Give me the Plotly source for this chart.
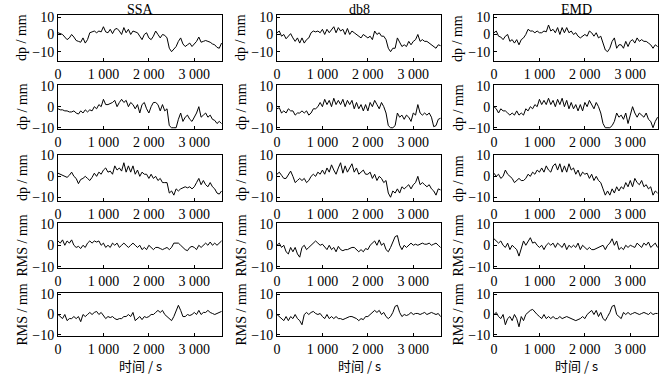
import plotly.graph_objects as go
from plotly.subplots import make_subplots

# time axis (s), every 50 s
time_s = list(range(0, 3601, 50))

ssa_dp1 = [1, 0.5, 0, -1.5, -3, -2, 0, -1.5, -3.5, -4, -4.5, -2, -5, -3, 1, 1.5, 2, 1, 2, 1.5,
           4.5, 1.5, 1, 3, 0.5, 3, 3.5, 2, 0, 4, 1, 3, 0, 2, 1.5, 1, -1, -3, 0, 1,
           -2, -3, -1, 2, 0, -2, 0, -0.5, -2, -8, -10, -8.5, -7, -4, -2, -5.5, -7, -6, -5, -7,
           -5.5, -4, -1.5, -4.5, -4, -3.5, -4, -4.5, -5.5, -6, -7.5, -8, -5]
ssa_dp2 = [-1, -1.5, -1.5, -2, -2, -2.5, -2.5, -2, -3, -3.5, -2, -3, -1.5, -2.5, -1.5, -2, 0, -1, 1, 0,
           3.5, 1, 1, 1.5, 2, 3, 0, 2, 3.5, 2, 3, 0, 2, 1, -1, 1, -3, 1, 2, -1,
           -3, 0, 2, 2, 1, -2, 1, -2, -1, -9, -10, -10, -10, -6, -3, -7, -5, -4, -6, -7,
           -5, -3, 0, -5, -4, -3, -5, -4, -6, -6.5, -8, -7, -8]
ssa_dp3 = [1.5, 1, 0.5, 0, -0.5, 0.5, 2, 0, -1, -3.5, -1.5, -1, 0, -1, -2, -0.5, 1.5, 0, 2, 1,
           3, 4, 2, 2.5, 1, 5, 3, 4, 2.5, 6.5, 2, 5, 2, 5, 1, 3, 0, 2, 1, 1,
           -1, 1, -1, 0, -2, -1, -3, -3, -3, -8, -7, -9, -6, -7, -6, -5.5, -5, -5.5, -5, -6,
           -5, -3, -1, -4, -2, -4, -5, -3, -5, -6, -8, -8.5, -7]
ssa_rms1 = [2, 1, 2.5, 0, 2, 1, 2.5, 0, -1, -0.5, -1.5, 0, -1, 1, 2, 1, 2, 1.5, 2, 0,
            1, -1, 0, -1, 1, 0, 1, -1, 0, 1, 0, -1, 0, 1, 0, -1, 0, -2, -1, -2,
            0, -1, -2, -1, -1, -1.5, -2, -1.5, -1, -2, -1, 1, 1, 1, 0, -1, -2, -2.5, -1, -0.5,
            -1, -2, 0, -1, 0, 1, 0, 1.5, 0, 1, 0, 1, 2]
ssa_rms2 = [0, -1, -2, 0, -3, -2, -2, -1, -2, -1, -3.5, 0, -1, 0, 1, 0, 1, 1.5, 0, 1,
            -0.5, -2, -1, -1.5, -1, -2, -2.5, -2, -2, -1, -1, 0, -1, 1, -3, -2, -1, -2.5, -1, -1.5,
            -1, 0, 0, 1, 2, 1, 2, 0, -1, -2, -3, -1, 2, 4.5, 2, -1, -1, 0, -0.5, 0,
            1, 0, 2, 0, 1, 1, 2, 1, 0.5, 0, 0.5, 1, 1.5]

db8_dp1 = [1, 2, -1, 0, -2.5, -1, 0.5, -2, -4, -2, -5, -2, -5, -3, -2, 1, 2, 1.5, 2, 1,
           3, 0, 3, 1, 3, 4.5, 1, 4, 2, 3, 0, 3.5, 0, 2, 1, 0, -1, -2, 0, -1,
           -2, -1, -3, 2, 0, 1, -1, -1, -3, -8, -10, -8, -8, -2, -5, -7, -6, -7, -4, -6,
           -4, -3, 0, -4, -3, -4, -4, -5, -6, -7, -8, -6, -6.5]
db8_dp2 = [-1, -0.5, -3, -2, -3, -1, -2, -2, -4, -3, -3, -2, -3, -2, -4, -3, -1, -1, 0, 2,
           0, 3.5, 1, 3, 0, 4, 1, 3, 1, 3.5, 0, 3, 1, 3, -1, 2, -1, 1, -2, 1,
           -2, 2, 0, 3, 1, -1, 2, 0, -3, -9, -10, -10, -9, -3, -5, -4, -6, -4, -5, -7,
           -3, -4, 1, -3, -4, -3, -4, -3, -5, -9.5, -9, -6, -5.5]
db8_dp3 = [1, 2, 0.5, -1, -1, 1, 2.5, 0, -3, -2, -1, -2, -1, -3, -2, 0, 1, 0, 2, 1,
           3, 1, 4, 2, 5.5, 3, 1, 4, 6.5, 1.5, 5, 2, 4, 6, 2, 4, 1, 2, 3, 1,
           1, 2, -1, 1, -2, 0, -1, -3, -2, -8, -10, -7, -8, -6, -8, -5, -6, -5, -4, -6,
           -4, -3, 0, -4, -3, -4, -5, -4, -6, -7, -9, -6, -6.5]
db8_rms1 = [0, 1, -1, 0, -3, -4, -1, -3, -1, -4, -5.5, -1, 0, -2, -1, 0, 1, 2, 1, 0,
            0.5, -1, -2, 0, -2, -1, -3, -0.5, -2, -2.5, -2, -2, -1.5, -1, -1, -2, -3, -2, -3, -1.5,
            -2, 0, 1, 2, 0, 2.5, 0, 1, -2, -3, -1, 2, 4, 4.5, 0, -2, 0, -1, 0, 1,
            0, 0.5, 0, 0.5, 1, 0.5, 0.5, 1, 0, 0.5, 1, 0, -1]
db8_rms2 = [0, -1, -2, -3, -1, -3, -1, -2, 0, -2, -3, -5, 0, 1, 0, 1, 1.5, 0.5, 0, 0.5,
            -1, -2, 0, -2, -1, -2, -1, -2, -2, -2.5, -2, -1.5, -1, -1, -1.5, -2, -3, -2, -2.5, -1,
            -1, 0, 1, 2, 1, 2, 0, 1, -1, -2, -1, 1, 4, 4.5, 1, -1, 0, -0.5, 0, 1,
            0, 0.5, 0.5, 0, 0.5, 1, 0, 0.5, 1, 0.5, 0, 0.5, -1]

emd_dp1 = [1, 2, -1, -1.5, -3, -1, 0, -4, -3, -5, -3, -6, -3, -2, 0, 3, 2, 2, 1, 2,
           1, 1, 2, 1.5, 5.5, 2, 3, 1, 4, 0, 4, 1, 4, 1, 2, 0, 1, -1, -2, -1,
           0, -1, 2, 1, -1, 1, -2, -1, -5, -9, -10, -8, -4, -2, -8, -6, -6, -8, -4, -7,
           -4, -3, -5, -2, -4, -3, -4, -4, -5, -6, -8, -6, -7]
emd_dp2 = [0, -1, -3, -1, -2, -2, -3, -4, -3, -4, -2, -4, -3, -4, -1, -2, 0, -1, 1, 0,
           3.5, 1, 3, 1, 4, 1, 3, 0, 3.5, 1, 4, 0, 3, -1, 2, -1, 1, -2, 1, -2,
           2, 0, 3, 1, -1, 2, 0, -3, -8, -10, -10, -10, -9, -7, -3, -5, -4, -6, -3, -8,
           -4, 0, -3, -5, -3, -4, -5, -3, -6, -7, -10, -7, -5]
emd_dp3 = [1.5, 0, 1, -1, 0, 3, 1, 0, -1, -3, -2, -1, -2, -2, -1, 1, 0, 2, 1, 3,
           2, 4, 2, 5, 3, 2, 5, 6, 3, 6, 2, 5, 2, 6, 3, 4, 1, 3, 0, 2,
           1, 1.5, -1, 1, -2, 0, -2, -3, -6, -9, -7, -9, -6, -8, -5, -7, -5, -6, -3, -5,
           -2, -5, -1, -3, -4, -2, -5, -4, -6, -5, -9, -7, -8]
emd_rms1 = [3, 2, 1, 2, 0, -1, 1, -2, 0, -1, -2, -5, -1, 2, 0, 2, 3.5, 1, 1.5, 0,
            -1, 0, -2, 0, 1, 0, 1, -1, 1, 0, -1, 1, -2, 0, -1, 0, -1, 1, -2, 0,
            -1, -2, -1, -2, -2, -1.5, -1, -0.5, 0, -2, 0, 1, 3, 0, 2, -2, -1, -2, 0, -1,
            0, -0.5, -1, 1, 0, -1, 1, 0, 1.5, -1, 0, 1, -1]
emd_rms2 = [0, 1, -1, -2, 0, -5, -2, -1, -3, 0, -2, -6, -1, -3, 0, 1, 2, 2.5, 1, 0,
            -1, -2, 0, -2, -1, -2, -1, -2, -2, -1, -2, -1.5, -1, -1.5, -2, -2.5, -3, -2.5, -2, -1,
            -2, 0, 1, 2, 0, 2, -1, 1, -2, -3, -1, 1, 4, 4.5, 0, -1, -2, 1, 0, 1,
            0, 0.5, 1, 0.5, 0, 0.5, 1, 0.5, 0, 1, 0, 0.5, 0.5]

col_titles = ["SSA", "db8", "EMD"]
row_titles = ["dp / mm", "dp / mm", "dp / mm", "RMS / mm", "RMS / mm"]
x_title = "时间 / s"
x_tickvals = [0, 1000, 2000, 3000]
x_ticktext = ["0", "1 000", "2 000", "3 000"]
y_tickvals = [-10, 0, 10]
y_ticktext = ["\u221210", "0", "10"]

grid = [
    [ssa_dp1, db8_dp1, emd_dp1],
    [ssa_dp2, db8_dp2, emd_dp2],
    [ssa_dp3, db8_dp3, emd_dp3],
    [ssa_rms1, db8_rms1, emd_rms1],
    [ssa_rms2, db8_rms2, emd_rms2],
]

W, H = 670, 380
col_px = [(58, 222), (277, 441), (494, 658)]
row_px = [(15, 61), (85, 129), (155, 201), (223, 268), (293, 336)]
y_ranges = [[-15.4, 11.3], [-10.6, 10.3], [-11.8, 10.2], [-10.5, 10.3], [-10.5, 10.5]]

fig = make_subplots(rows=5, cols=3)
font_family = "Liberation Serif, Times New Roman, serif"

for r in range(5):
    for c in range(3):
        fig.add_trace(go.Scatter(x=time_s, y=grid[r][c], mode="lines",
                                 line=dict(color="black", width=1), showlegend=False),
                      row=r + 1, col=c + 1)
        idx = r * 3 + c + 1
        xa = "xaxis" if idx == 1 else f"xaxis{idx}"
        ya = "yaxis" if idx == 1 else f"yaxis{idx}"
        x0, x1 = col_px[c]
        t0, t1 = row_px[r]
        fig.layout[xa].update(domain=[x0 / W, x1 / W], range=[0, 3610],
                              tickvals=x_tickvals, ticktext=x_ticktext,
                              ticks="inside", ticklen=3, tickcolor="black",
                              showline=True, linecolor="black", linewidth=1, mirror=True,
                              showgrid=False, zeroline=False, automargin=False,
                              tickfont=dict(family=font_family, size=14, color="black"))
        fig.layout[ya].update(domain=[1 - t1 / H, 1 - t0 / H], range=y_ranges[r],
                              tickvals=y_tickvals, ticktext=y_ticktext,
                              ticks="inside", ticklen=3, tickcolor="black",
                              showline=True, linecolor="black", linewidth=1, mirror=True,
                              showgrid=False, zeroline=False, automargin=False,
                              tickfont=dict(family=font_family, size=14, color="black"))
        fig.add_annotation(text=row_titles[r], x=(x0 - 36) / W, y=1 - (t0 + t1) / 2 / H,
                           xref="paper", yref="paper", textangle=-90, showarrow=False,
                           xanchor="center", yanchor="middle",
                           font=dict(family=font_family, size=14, color="black"))

for c in range(3):
    x0, x1 = col_px[c]
    fig.add_annotation(text=col_titles[c], x=(x0 + x1) / 2 / W, y=1 - 10 / H,
                       xref="paper", yref="paper", showarrow=False,
                       xanchor="center", yanchor="middle",
                       font=dict(family=font_family, size=14, color="black"))
    fig.add_annotation(text=x_title, x=(x0 + x1) / 2 / W, y=1 - 365 / H,
                       xref="paper", yref="paper", showarrow=False,
                       xanchor="center", yanchor="middle",
                       font=dict(family="Noto Sans CJK SC, " + font_family, size=13, color="black"))

fig.update_layout(width=W, height=H, margin=dict(l=0, r=0, t=0, b=0),
                  paper_bgcolor="white", plot_bgcolor="white")
fig.write_html("out.html", config={"displayModeBar": False},
               post_script="document.body.style.margin='0';document.body.style.overflow='hidden';")
